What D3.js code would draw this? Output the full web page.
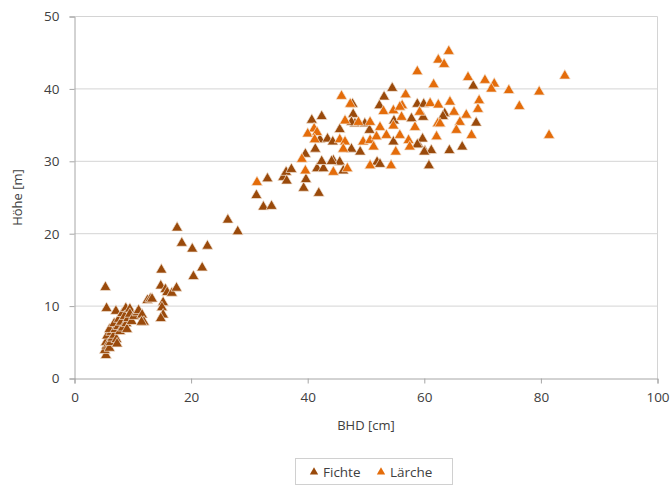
<!DOCTYPE html>
<html><head><meta charset="utf-8">
<script src="https://cdn.jsdelivr.net/npm/d3@7"></script>
<style>body{margin:0;background:#fff;} svg{display:block;font-family:"Open Sans",sans-serif;}</style>
</head><body>
<script>
const seriesNames = ["Fichte", "Lärche"];
const seriesColors = ["#9a4a0b", "#e46c0a"];
const xTicks = [0, 20, 40, 60, 80, 100];
const yTicks = [0, 10, 20, 30, 40, 50];
const xTitle = "BHD [cm]";
const yTitle = "Höhe [m]";

const fichteBHD = [5.3,5.5,5.4,5.2,5.5,5.4,5.6,5.8,6.0,6.2,6.5,6.3,6.0,6.8,7.0,6.8,7.2,7.3,7.5,7.8,7.1,7.6,8.0,8.3,8.2,8.8,8.6,8.9,9.0,9.2,9.5,9.5,9.8,10.2,10.8,11.0,11.6,11.9,11.5,12.5,13.0,13.3,
14.8,14.9,15.6,15.9,16.7,17.5,15.2,15.0,15.2,14.8,
17.6,18.4,20.2,22.8,21.9,20.4,26.3,28.0,
31.2,33.1,32.4,33.8,35.8,36.3,37.2,36.4,
39.6,41.3,39.3,39.7,41.9,40.7,42.4,42.1,43.4,44.3,41.6,42.7,44.4,45.5,46.1,42.4,44.1,45.5,47.5,49.0,47.7,47.8,48.1,47.5,49.8,50.6,51.9,52.4,53.1,52.3,54.5,54.8,54.7,57.8,58.8,59.9,59.8,59.0,59.7,58.8,60.1,61.2,60.0,60.8,63.5,63.2,64.3,66.5,68.4,68.9];
const fichteHoehe = [12.6,9.7,3.2,3.9,4.5,5.0,5.9,4.8,4.2,5.0,5.6,6.4,6.8,6.0,6.8,7.6,5.4,4.8,7.2,6.5,9.3,8.2,7.8,7.0,9.0,9.7,8.6,7.6,6.8,8.3,9.6,8.9,7.9,8.6,9.1,9.4,8.8,7.8,7.8,10.8,11.0,11.0,
12.8,15.0,12.3,11.9,11.8,12.5,10.5,9.8,8.8,8.3,
20.8,18.7,17.9,18.3,15.3,14.1,21.9,20.3,
25.3,27.6,23.7,23.8,27.8,28.5,28.9,27.3,
31.0,31.7,26.3,27.5,25.6,35.7,36.2,33.0,33.1,32.7,29.0,29.0,30.1,29.9,28.7,30.0,30.0,34.4,31.7,31.3,37.9,36.5,35.2,35.4,35.2,34.3,29.9,29.6,38.9,37.7,40.1,35.6,32.7,35.9,37.9,37.9,36.1,32.3,33.1,32.3,31.4,31.5,31.3,29.4,36.6,36.2,31.5,32.0,40.4,35.3];

const laercheBHD = [31.3,39.0,39.6,41.1,40.0,41.6,41.2,45.8,47.3,46.4,48.7,50.7,52.4,53.0,54.7,56.2,56.8,56.1,55.8,54.7,58.4,59.2,61.0,62.4,62.3,62.7,61.6,58.8,64.2,62.4,63.4,67.5,70.4,72.0,71.5,74.5,79.7,76.3,81.4,84.1,69.4,69.2,67.2,66.1,65.5,68.1,64.4,65.1,62.1,45.5,46.4,46.1,49.5,50.7,51.8,53.5,55.8,57.3,57.5,55.1,51.3,46.8,44.4,50.7,54.3];
const laercheHoehe = [27.1,30.3,28.7,34.5,33.8,34.0,33.0,39.0,37.9,35.6,35.4,35.4,34.7,36.9,37.0,37.7,39.2,36.1,37.5,34.9,34.7,36.8,38.0,37.8,35.2,35.2,40.6,42.4,45.2,44.0,43.4,41.6,41.2,40.7,40.0,39.8,39.6,37.6,33.6,41.8,38.4,37.2,36.4,35.4,34.3,33.6,38.2,36.8,33.4,33.0,32.7,31.7,32.7,32.9,33.4,33.6,33.6,32.9,32.0,31.3,32.0,29.0,28.5,29.4,29.4];

const W = 670, H = 487;
const svg = d3.select("body").append("svg").attr("width", W).attr("height", H);
const x = d3.scaleLinear().domain([0, 100]).range([74.5, 657.5]);
const y = d3.scaleLinear().domain([0, 50]).range([378.5, 16.5]);

svg.append("g").selectAll("line").data(yTicks.filter(d => d > 0)).join("line")
  .attr("x1", x(0)).attr("x2", x(100)).attr("y1", d => y(d)).attr("y2", d => y(d))
  .attr("stroke", "#d4d4d4").attr("stroke-width", 1);
svg.append("line").attr("x1", x(100)).attr("x2", x(100)).attr("y1", y(50)).attr("y2", y(0))
  .attr("stroke", "#d4d4d4");

const yAxis = svg.append("g").attr("transform", `translate(${x(0)},0)`)
  .call(d3.axisLeft(y).tickValues(yTicks).tickSize(5).tickPadding(10));
const xAxis = svg.append("g").attr("transform", `translate(0,${y(0)})`)
  .call(d3.axisBottom(x).tickValues(xTicks).tickSize(5).tickPadding(9));
[yAxis, xAxis].forEach(a => {
  a.select(".domain").attr("stroke", "#a6a6a6");
  a.selectAll(".tick line").attr("stroke", "#a6a6a6");
  a.selectAll(".tick text").attr("fill", "#404040").style("font-size", "13.5px").style("font-family", "Open Sans, sans-serif");
});

svg.append("text").attr("x", x(50)).attr("y", 430).attr("text-anchor", "middle")
  .attr("fill", "#404040").style("font-size", "13px").text(xTitle);
svg.append("text").attr("transform", `translate(22,${(y(0)+y(50))/2}) rotate(-90)`).attr("text-anchor", "middle")
  .attr("fill", "#404040").style("font-size", "13px").text(yTitle);

const tri = d3.symbol().type(d3.symbolTriangle).size(52);
const series = [
  { bhd: fichteBHD, h: fichteHoehe },
  { bhd: laercheBHD, h: laercheHoehe }
];
series.forEach((s, i) => {
  const pts = s.bhd.map((v, k) => [v, s.h[k]]);
  svg.append("g").selectAll("path").data(pts).join("path")
    .attr("d", tri)
    .attr("transform", d => `translate(${x(d[0])},${y(d[1])})`)
    .attr("fill", seriesColors[i])
    .attr("stroke", "#f3e6da").attr("stroke-width", 0.7);
});

const lg = svg.append("g");
lg.append("rect").attr("x", 295.5).attr("y", 458.5).attr("width", 157).attr("height", 26)
  .attr("fill", "#fff").attr("stroke", "#d0d0d0");
const lx = [314, 381];
seriesNames.forEach((n, i) => {
  lg.append("path").attr("d", d3.symbol().type(d3.symbolTriangle).size(30))
    .attr("transform", `translate(${lx[i]},${472})`).attr("fill", seriesColors[i]);
  lg.append("text").attr("x", lx[i] + 9).attr("y", 476.5).attr("fill", "#404040")
    .style("font-size", "13.5px").text(n);
});
</script>
</body></html>
